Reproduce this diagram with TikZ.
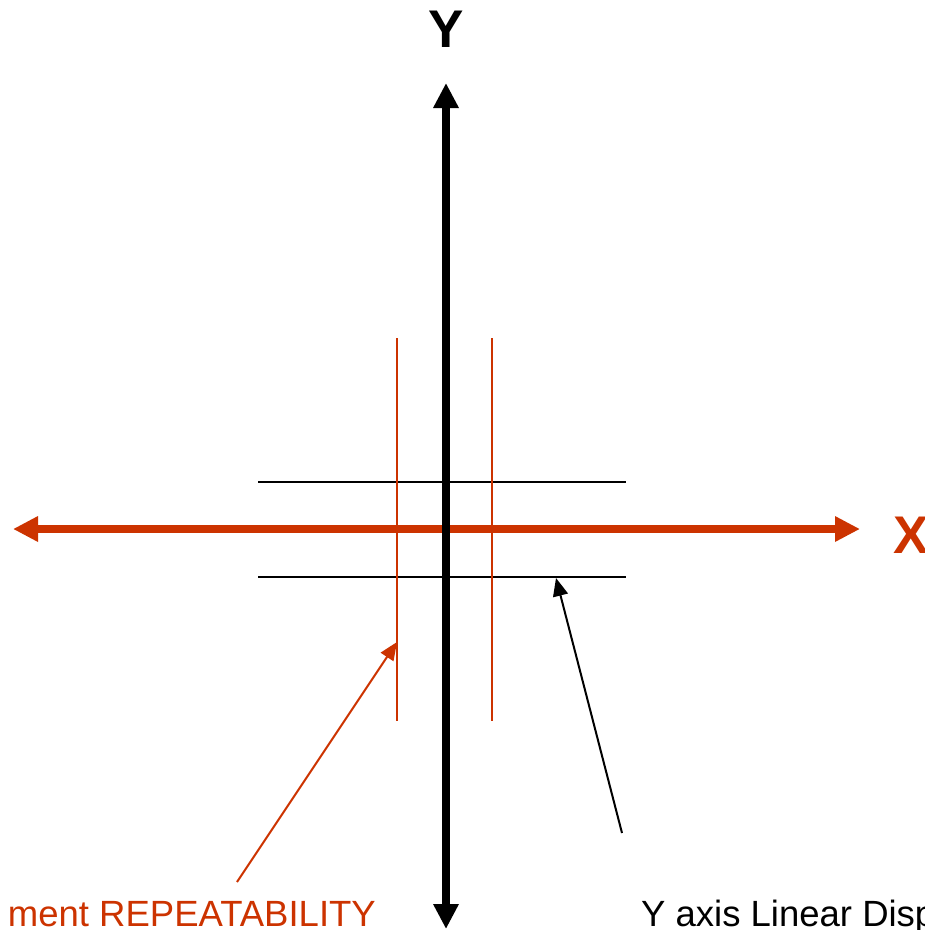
\documentclass[tikz,border=0pt]{standalone}
\usepackage{fontspec}
\setmainfont{Liberation Sans}
\usetikzlibrary{arrows.meta}
\definecolor{axred}{HTML}{CC3300}
\tikzset{
  bigaxisboth/.style={line width=7.5pt,{Triangle[length=25pt,width=24pt]}-{Triangle[length=25pt,width=24pt]}},
  thinline/.style={line width=2pt},
  pointer/.style={line width=2pt,-{Triangle[length=18pt,width=15pt]}},
  axlabel/.style={font=\fontsize{53}{53}\selectfont\bfseries,inner sep=0pt},
  caption/.style={font=\fontsize{36.5}{36.5}\selectfont,inner sep=0pt}
}
\begin{document}
\begin{tikzpicture}[x=1pt,y=-1pt]
\useasboundingbox (0,0) rectangle (925,930);
\clip (0,0) rectangle (925,930);
% coordinates
\coordinate (ytop) at (446,83);
\coordinate (ybot) at (446,929);
\coordinate (xl) at (13,529);
\coordinate (xr) at (860,529);
\coordinate (h1a) at (258,482); \coordinate (h1b) at (626,482);
\coordinate (h2a) at (258,577); \coordinate (h2b) at (626,577);
\coordinate (v1a) at (397,338); \coordinate (v1b) at (397,721);
\coordinate (v2a) at (492,338); \coordinate (v2b) at (492,721);
\coordinate (rstart) at (237,882); \coordinate (rtip) at (397,642);
\coordinate (bstart) at (622,833); \coordinate (btip) at (556,578);
% thin lines
\draw[thinline] (h1a) -- (h1b);
\draw[thinline] (h2a) -- (h2b);
\draw[thinline,axred] (v1a) -- (v1b);
\draw[thinline,axred] (v2a) -- (v2b);
% axes
\draw[bigaxisboth,axred] (xl) -- (xr);
\draw[bigaxisboth,black] (ybot) -- (ytop);
% labels
\node[axlabel,anchor=base] (ylab) at (446,47) {Y};
\node[axlabel,anchor=base west,text=axred] (xlab) at (893,553) {X};
% pointers
\draw[pointer,axred] (rstart) -- (rtip);
\draw[pointer,black] (bstart) -- (btip);
% captions
\node[caption,anchor=base east,text=axred] (rcap) at (376,926) {ment REPEATABILITY};
\node[caption,anchor=base west] (bcap) at (641,926) {Y axis Linear Disp};
\end{tikzpicture}
\end{document}
